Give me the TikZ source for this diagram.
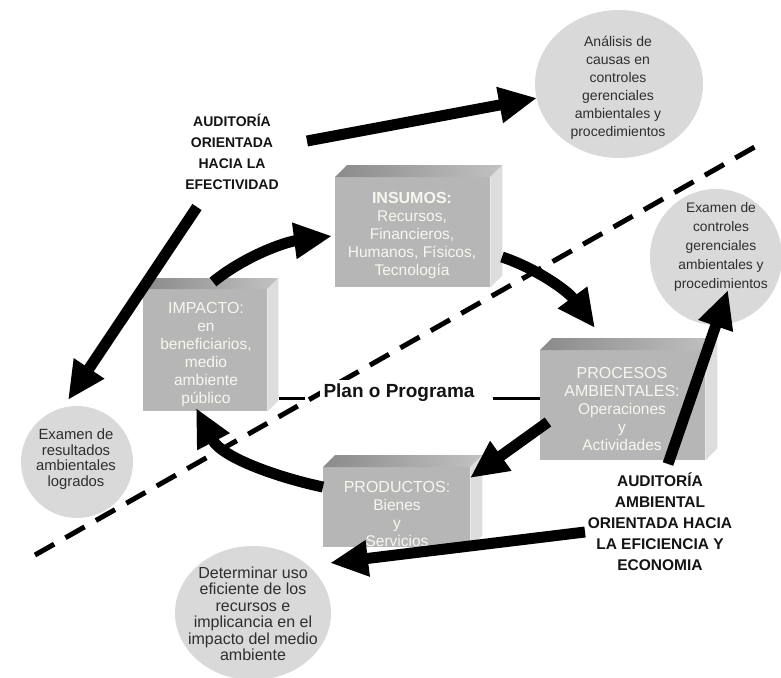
\documentclass[tikz,border=0pt]{standalone}
\usepackage{fontspec}
\setmainfont{Liberation Sans}
\usetikzlibrary{arrows.meta,shapes.geometric}

\definecolor{boxfront}{HTML}{B6B6B6}
\definecolor{boxtopl}{HTML}{8A8A8A}
\definecolor{boxtopr}{HTML}{C2C2C2}
\definecolor{boxside}{HTML}{DDDDDD}
\definecolor{bubblegray}{HTML}{D9D9D9}
\definecolor{boxtext}{HTML}{F7F7EF}
\definecolor{bubbletext}{HTML}{2E2E2E}
\definecolor{inktext}{HTML}{141414}

\tikzset{
  face/.style={fill=boxfront, draw=none, inner sep=0pt, anchor=north west},
  boxlabel/.style={text=boxtext, align=center, inner sep=0pt,
    font=\fontsize{15.5pt}{18pt}\selectfont},
  boxtitle/.style={font=\fontsize{16pt}{18pt}\selectfont},
  bubble/.style={ellipse, fill=bubblegray, draw=none, inner sep=0pt},
  bubblelabel/.style={text=bubbletext, align=center, inner sep=0pt},
  auditlabel/.style={text=inktext, align=center, inner sep=0pt},
  bigarrow/.style={line width=11pt, draw=black,
    -{Triangle[length=38pt,width=34pt]}},
  cutline/.style={line width=5pt, draw=black, dash pattern=on 22pt off 13pt},
  planline/.style={line width=3pt, draw=black}
}

% top bevel and right side of a box whose front face is node #1
\newcommand\boxbevel[2]{%
  \shade[left color=boxtopl, right color=boxtopr]
    (#1.north west) -- ([shift={(#2,-#2)}]#1.north west)
    -- ([shift={(#2,-#2)}]#1.north east) -- (#1.north east) -- cycle;
  \fill[boxside]
    (#1.north east) -- ([shift={(#2,-#2)}]#1.north east)
    -- ([shift={(#2,-#2)}]#1.south east) -- (#1.south east) -- cycle;
}
\newcommand\titlefont{\fontsize{16pt}{18pt}\selectfont}

\begin{document}
\begin{tikzpicture}[x=1pt,y=-1pt]
\useasboundingbox[fill=white] (0,0) rectangle (781,677);

% dividing dashed line
\coordinate (cutL) at (35,555);
\coordinate (cutR) at (760,144);
\draw[cutline] (cutL) -- (cutR);

% bubbles
\node[bubble, minimum width=168pt, minimum height=148pt] (bTop) at (619,84) {};
\node[bubble, minimum width=132pt, minimum height=136pt] (bRight) at (716,257) {};
\node[bubble, minimum width=112pt, minimum height=112pt] (bLeft) at (77,462) {};
\node[bubble, minimum width=156pt, minimum height=134pt] (bBottom) at (253,613) {};

\node[bubblelabel, font=\fontsize{14pt}{18pt}\selectfont] (tTop) at (618,88)
  {Análisis de\\causas en\\controles\\gerenciales\\ambientales y\\procedimientos};
\node[bubblelabel, font=\fontsize{13.8pt}{19pt}\selectfont] (tRight) at (721,247)
  {Examen de\\controles\\gerenciales\\ambientales y\\procedimientos};
\node[bubblelabel, font=\fontsize{14.8pt}{15.5pt}\selectfont] (tLeft) at (76,459)
  {Examen de\\resultados\\ambientales\\logrados};
\node[bubblelabel, font=\fontsize{16pt}{16.5pt}\selectfont] (tBottom) at (253,614)
  {Determinar uso\\eficiente de los\\recursos e\\implicancia en el\\impacto del medio\\ambiente};

% boxes
\node[face, minimum width=155pt, minimum height=110pt] (insumos) at (335,177) {};
\boxbevel{insumos}{12}
\node[face, minimum width=124pt, minimum height=122pt] (impacto) at (143,289) {};
\boxbevel{impacto}{11}
\node[face, minimum width=165pt, minimum height=110pt] (procesos) at (540,350) {};
\boxbevel{procesos}{12}
\node[face, minimum width=147pt, minimum height=80pt] (productos) at (323,467) {};
\boxbevel{productos}{12}

\node[boxlabel] (insumosT) at (412,236)
  {{\titlefont\bfseries INSUMOS:}\\Recursos,\\Financieros,\\Humanos, Físicos,\\Tecnología};
\node[boxlabel] (impactoT) at (206,355)
  {{\titlefont IMPACTO:}\\en\\beneficiarios,\\medio\\ambiente\\público};
\node[boxlabel] (procesosT) at (622,409)
  {{\titlefont PROCESOS}\\{\titlefont AMBIENTALES:}\\Operaciones\\y\\Actividades};
\node[boxlabel] (productosT) at (397,514)
  {{\titlefont PRODUCTOS:}\\Bienes\\y\\Servicios};

% plan label between impact and processes
\node[auditlabel, fill=white, inner sep=4pt,
  font=\fontsize{19pt}{22pt}\selectfont\bfseries] (plan) at (399,393) {Plan o Programa};
\coordinate (planL) at (279,398);
\coordinate (planR) at (540,398);
\draw[planline] (planL) -- ([xshift=-14pt]plan.west |- planL);
\draw[planline] ([xshift=14pt]plan.east |- planR) -- (planR);

% audit labels
\node[auditlabel, font=\fontsize{14pt}{21pt}\selectfont\bfseries] (efect) at (232,152)
  {AUDITORÍA\\ORIENTADA\\HACIA LA\\EFECTIVIDAD};
\node[auditlabel, font=\fontsize{15.5pt}{21pt}\selectfont\bfseries] (efic) at (660,522)
  {AUDITORÍA\\AMBIENTAL\\ORIENTADA HACIA\\LA EFICIENCIA Y\\ECONOMIA};

% arrow end points
\coordinate (a1s) at (307,141);  \coordinate (a1e) at (537,98);
\coordinate (a2s) at (197,207);  \coordinate (a2e) at (68,400);
\coordinate (a3s) at (213,282);  \coordinate (a3e) at (332,236);
\coordinate (a4s) at (502,257);  \coordinate (a4e) at (595,328);
\coordinate (a5s) at (548,422);  \coordinate (a5e) at (470,478);
\coordinate (a6s) at (323,487);  \coordinate (a6e) at (196,408);
\coordinate (a7s) at (668,464);  \coordinate (a7e) at (728,290);
\coordinate (a8s) at (585,532);  \coordinate (a8e) at (330,563);

% audit arrows
\draw[bigarrow] (a1s) -- (a1e);
\draw[bigarrow] (a2s) -- (a2e);
\draw[bigarrow] (a7s) -- (a7e);
\draw[bigarrow] (a8s) -- (a8e);

% cycle arrows
\draw[bigarrow] (a3s) .. controls (245,256) and (285,242) .. (a3e);
\draw[bigarrow] (a4s) .. controls (535,268) and (567,290) .. (a4e);
\draw[bigarrow] (a5s) -- (a5e);
\draw[bigarrow] (a6s) .. controls (280,478) and (222,458) .. (a6e);
\end{tikzpicture}
\end{document}
